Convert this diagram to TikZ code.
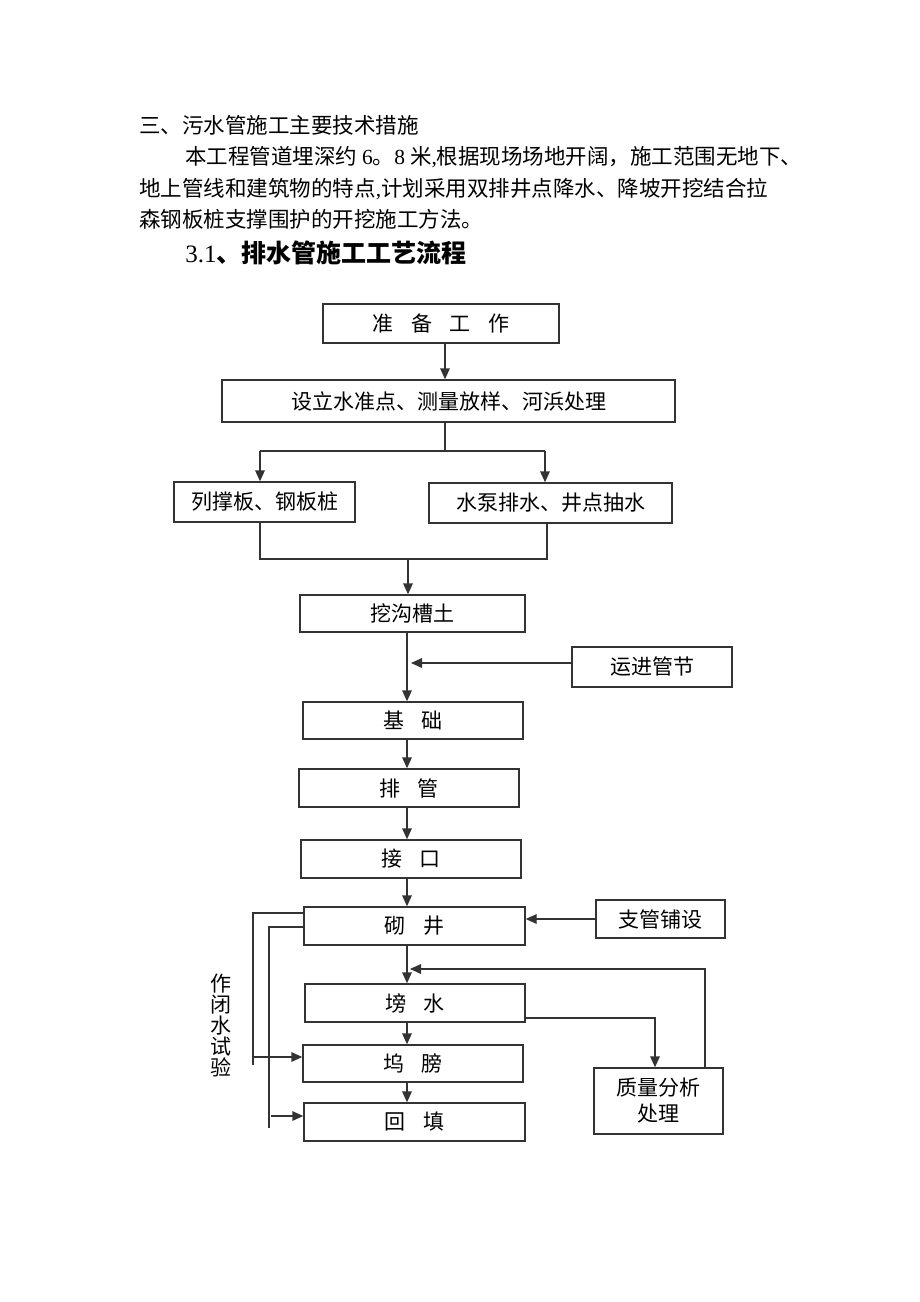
\documentclass[tikz,border=0pt]{standalone}
\usepackage{fontspec}
\setmainfont{Liberation Serif}
\newfontfamily\cjk{Noto Sans CJK SC}
\newcommand{\wsp}{\hspace{.85em}}
\usetikzlibrary{arrows.meta}

\begin{document}
\begin{tikzpicture}[x=0.5pt,y=-0.5pt,
  box/.style={draw=black!80,line width=0.7pt,inner sep=0pt,align=center,
    font=\cjk\fontsize{10.5}{13}\selectfont},
  line/.style={draw=black!80,line width=0.7pt},
  arr/.style={line,-{Triangle[length=5.5pt,width=4.8pt]}},
  txt/.style={anchor=west,inner sep=0pt,font=\cjk\fontsize{10.75}{13}\selectfont}]
  \useasboundingbox (0,0) rectangle (920,1302);
  % text above the chart
  \node[txt] (sec3) at (139,125) {三、污水管施工主要技术措施};
  \node[txt] (par1) at (185,157) {本工程管道埋深约 {\rmfamily 6}。{\rmfamily 8} 米{\rmfamily ,}根据现场场地开阔，施工范围无地下、};
  \node[txt] (par2) at (139,189) {地上管线和建筑物的特点{\rmfamily ,}计划采用双排井点降水、降坡开挖结合拉};
  \node[txt] (par3) at (139,219) {森钢板桩支撑围护的开挖施工方法。};
  \node[txt,font=\fontsize{12.5}{14}\selectfont] (sec31) at (185,253) {3.1{\cjk\bfseries 、排水管施工工艺流程}};
  % chart boxes
  \node[box,minimum width=118pt,minimum height=19.5pt] (prep) at (441,323.5) {准\wsp 备\wsp 工\wsp 作};
  \node[box,minimum width=226.5pt,minimum height=21pt] (survey) at (448.5,401) {设立水准点、测量放样、河浜处理};
  \node[box,minimum width=90.5pt,minimum height=20pt] (sheet) at (264.5,502) {列撑板、钢板桩};
  \node[box,minimum width=121.5pt,minimum height=20pt] (pump) at (550.5,503) {水泵排水、井点抽水};
  \node[box,minimum width=112.5pt,minimum height=18.5pt] (dig) at (412.5,613.5) {挖沟槽土};
  \node[box,minimum width=80pt,minimum height=20pt] (trans) at (652,667) {运进管节};
  \node[box,minimum width=110pt,minimum height=18.5pt] (base) at (413,720.5) {基\wsp 础};
  \node[box,minimum width=110pt,minimum height=19pt] (lay) at (409,788) {排\wsp 管};
  \node[box,minimum width=110pt,minimum height=19pt] (joint) at (411,859) {接\wsp 口};
  \node[box,minimum width=110.5pt,minimum height=19pt] (well) at (414.5,926) {砌\wsp 井};
  \node[box,minimum width=64.5pt,minimum height=19pt] (branch) at (660.5,919) {支管铺设};
  \node[box,minimum width=110pt,minimum height=19pt] (bang) at (415,1003) {塝\wsp 水};
  \node[box,minimum width=110pt,minimum height=18.5pt] (wu) at (413,1063.5) {坞\wsp 膀};
  \node[box,minimum width=110.5pt,minimum height=19pt] (fill) at (414.5,1122) {回\wsp 填};
  \node[box,minimum width=64.5pt,minimum height=33pt] (qa) at (658.5,1101) {质量分析\\处理};
  \node[inner sep=0pt,align=center,font=\cjk\fontsize{10.5}{10.5}\selectfont] (test) at (221,1025) {作\\闭\\水\\试\\验};
  % connectors
  \coordinate (split) at (445,451);
  \coordinate (sl) at (260,451);
  \coordinate (sr) at (545,451);
  \draw[arr] (prep.south -| split) -- (survey.north -| split);
  \draw[line] (survey.south -| split) -- (split);
  \draw[line] (sl) -- (sr);
  \draw[arr] (sl) -- (sl |- sheet.north);
  \draw[arr] (sr) -- (sr |- pump.north);
  \coordinate (jl) at (260,559);
  \coordinate (jr) at (547,559);
  \coordinate (jm) at (408,559);
  \draw[line] (sheet.south -| jl) -- (jl) -- (jr) -- (pump.south -| jr);
  \draw[arr] (jm) -- (dig.north -| jm);
  \coordinate (spine) at (407,0);
  \draw[arr] (dig.south -| spine) -- (base.north -| spine);
  \coordinate (tin) at (411,663);
  \draw[arr] (trans.west |- tin) -- (tin);
  \foreach \a/\b in {base/lay,lay/joint,joint/well,well/bang,bang/wu,wu/fill}
    \draw[arr] (\a.south -| spine) -- (\b.north -| spine);
  \draw[arr] (branch.west) -- (branch.west -| well.east);
  \coordinate (fb) at (705,969);
  \coordinate (fbin) at (410,969);
  \draw[arr] (qa.north -| fb) -- (fb) -- (fbin);
  \coordinate (qin) at (655,1018);
  \draw[arr] (bang.east |- qin) -- (qin) -- (qa.north -| qin);
  %\draw[line] (test.north) -- (test.south);
  \coordinate (lo) at (253,913);
  \coordinate (lo2) at (253,1065);
  \coordinate (lo3) at (253,1057);
  \draw[line] (well.west |- lo) -- (lo) -- (lo2);
  \draw[arr] (lo3) -- (wu.west |- lo3);
  \coordinate (li) at (269,927);
  \coordinate (li2) at (269,1128);
  \coordinate (li3) at (271,1116);
  \draw[line] (well.west |- li) -- (li) -- (li2);
  \draw[arr] (li3) -- (fill.west |- li3);
\end{tikzpicture}
\end{document}
